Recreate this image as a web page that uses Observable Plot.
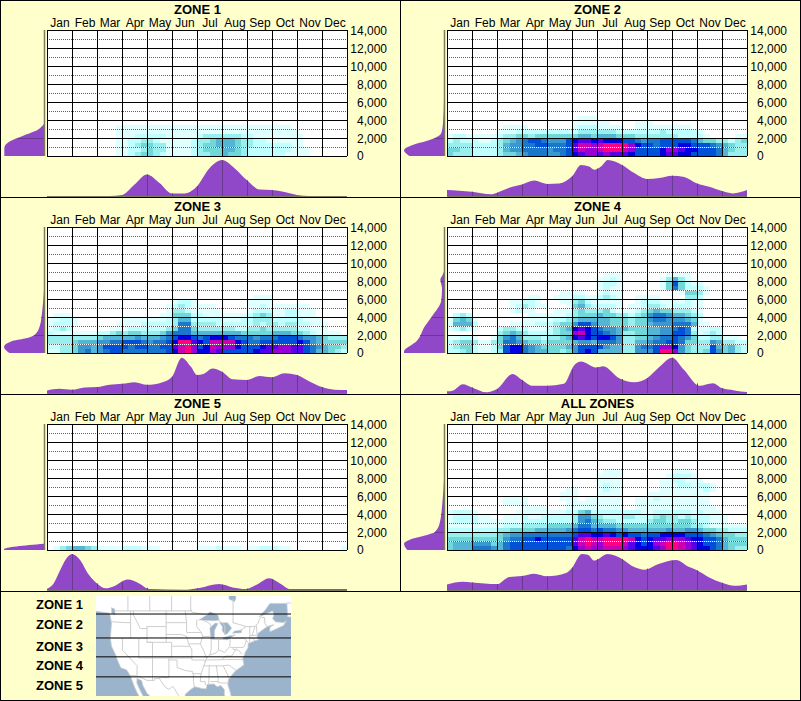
<!DOCTYPE html>
<html>
<head>
<meta charset="utf-8">
<script src="https://cdn.jsdelivr.net/npm/d3@7"></script>
<script src="https://cdn.jsdelivr.net/npm/@observablehq/plot@0.6"></script>
<style>
html,body{margin:0;padding:0;background:#ffffcc;}
#page{position:relative;width:801px;height:701px;background:#ffffcc;overflow:hidden;font-family:"Liberation Sans",Arial,sans-serif;}
#page svg{position:absolute;background:transparent;}
.line{position:absolute;background:#000;}
.zl{position:absolute;left:36px;font-weight:bold;font-size:13px;line-height:14px;color:#000;}
</style>
</head>
<body>
<div id="page"></div>
<script>
const months = ["Jan","Feb","Mar","Apr","May","Jun","Jul","Aug","Sep","Oct","Nov","Dec"];
const monthCenters = [0.5,1.5,2.5,3.5,4.5,5.5,6.5,7.5,8.5,9.5,10.5,11.5];
const monthEdges = [0,1,2,3,4,5,6,7,8,9,10,11,12];
const feetMajor = [0,2000,4000,6000,8000,10000,12000,14000];
const feetMinor = [1000,3000,5000,7000,9000,11000,13000];
const levelColors = ["#e0ffff","#bfffff","#99eeee","#70d8d8","#55b5d5","#3a98d0","#1a78cc","#0050d8","#0000e0","#5500e8","#9900d8","#cc00b0","#ff0080"];
const levels = [1,2,3,4,5,6,7,8,9,10,11,12,13];

// heat levels: one string per 500 ft band (bottom first), one hex digit per quarter month
const zone1Rows = [
"0000 0000 0001 1234 4321 1112 3344 5443 2222 2211 1100 0000",
"0000 0000 0001 1223 4331 1112 3444 5543 2222 2221 1100 0000",
"0000 0000 0001 1234 4331 1112 3445 5543 3222 2221 1000 0000",
"0000 0000 0001 1223 3211 1112 3345 5543 3221 1111 1000 0000",
"0000 0000 0001 1122 2221 1111 2333 3332 2111 1111 1000 0000",
"0000 0000 0001 1111 1111 1111 1111 1111 1111 1111 0000 0000",
"0000 0000 0001 1111 1111 1111 1111 1111 1111 1110 0000 0000"];
const zone2Rows = [
"4333 2222 3445 6777 6678 9abb abaa a988 889a a998 8887 5333",
"4433 2222 3566 7777 6778 acbb cddd cb88 889b ba99 8887 5433",
"3333 2222 3566 7788 7778 accb cddd db98 8788 8998 8876 5433",
"2322 2112 3456 7887 6668 9aa9 a999 8876 7788 8887 5443 3234",
"1221 1111 2334 4344 4444 4554 5554 4433 3333 3222 2100 0011",
"0000 0000 1112 2222 2222 2333 3332 2222 2232 2222 1000 0000",
"0000 0000 0111 1000 0000 1222 1111 0011 1111 1110 0000 0000",
"0000 0000 0000 0000 0000 1111 1100 0011 1000 0000 0000 0000",
"0000 0000 0000 0000 0000 0111 0000 0000 0000 0000 0000 0000"];
const zone3Rows = [
"1133 4675 6788 7777 7778 9cdb 99ba 8888 89aa bbba a875 5432",
"2233 4665 6888 8788 7788 acdb 89cb bb98 889a abba a876 5443",
"3333 4555 6677 8887 6778 9dda 98cc cc98 7788 8888 9865 4444",
"3333 3333 4555 5565 5567 8998 7899 9877 7677 7888 7665 4333",
"2111 1111 2234 3443 3346 7775 5555 5554 4444 5554 4321 1110",
"1232 0000 0011 1222 2223 4774 3333 3322 3343 3333 2211 1000",
"1222 1000 0001 1112 2222 3773 3332 2222 2323 3233 2211 1000",
"1122 1000 0000 1111 1112 3552 2222 1112 2333 2222 2111 0000",
"0111 0000 0000 0000 0011 4442 2111 1111 2343 1122 1110 0000",
"0000 0000 0000 0000 0001 3321 1111 0000 1222 1122 1110 0000",
"0000 0000 0000 0000 0001 2321 1110 0000 1121 1111 1100 0000",
"0000 0000 0000 0000 0000 1221 0000 0000 1111 0000 0000 0000",
"0000 0000 0000 0000 0000 0000 0000 0000 0111 0000 0000 0000"];
const zone4Rows = [
"2234 2112 3899 7655 4434 6898 5555 3366 68dd b643 3486 4532",
"2344 2112 4899 7654 4445 6888 8655 3367 78bb 9643 3385 4532",
"2344 3113 4776 5443 4444 5665 7776 3355 6778 8744 3365 3322",
"1122 1001 4675 3332 3345 9a98 9986 3344 5677 8764 2233 1110",
"0000 0000 3454 3222 2344 bc98 8765 3344 5566 8873 1232 0000",
"1232 1000 2332 2111 2345 9a98 7665 5444 5566 7872 1122 0000",
"1555 2000 0011 1122 2344 6886 5544 4344 5666 7775 1100 0000",
"1454 1000 0000 1111 1223 4555 5544 4344 6776 6654 1000 0000",
"0232 0000 0000 0111 1112 3444 5443 3234 6776 5543 2000 0000",
"0000 0000 0012 1100 0111 3433 3421 1123 4544 3332 1000 0000",
"0000 0000 0012 3211 0001 4532 2221 0112 3321 2221 1000 0000",
"0000 0000 0011 2210 0011 3421 1111 0012 2211 1121 1000 0000",
"0000 0000 0000 0110 0111 2211 2321 0011 1100 0033 2000 0000",
"0000 0000 0000 0000 0011 1100 1211 0000 0000 0144 3100 0000",
"0000 0000 0000 0000 0000 0000 1211 0000 0014 7422 2100 0000",
"0000 0000 0000 0000 0000 0000 1221 0000 0014 8421 1000 0000",
"0000 0000 0000 0000 0000 0000 1121 0000 0013 5310 0000 0000",
"0000 0000 0000 0000 0000 0000 0111 0000 0001 1110 0000 0000"];
const zone5Rows = [
"0134 5543 1111 2221 1100 0000 1112 1110 1122 2110 0000 0001"];
const allRows = [
"4555 7776 5788 8888 8887 9bcb bccc ba99 9abd dcba 9987 5433",
"4555 6664 5788 8888 8888 acdc bddd ca98 9bcd dcba 9887 5444",
"4444 4444 4677 8898 8888 acdc cddd dc98 9aab bba9 9887 5444",
"3333 3333 4566 7777 7777 8aa9 9a98 9887 8899 9988 8765 4433",
"2222 2222 3344 4455 5556 7887 8776 6555 5556 5566 5443 3222",
"1111 1111 1222 3333 4444 5775 5554 4444 4444 4443 3211 1111",
"1222 2111 1111 2222 2222 3675 4332 2222 3443 3443 2211 1000",
"1222 2110 0111 2112 2222 3664 3222 3322 2343 3232 2211 1000",
"1222 1000 0001 1111 1112 2452 2222 2221 1222 2221 2111 0000",
"0000 0000 0000 1111 0001 1111 1111 0011 1111 1111 1110 0000",
"0000 0000 0111 1000 0001 1111 1111 0011 1111 1111 1100 0000",
"0000 0000 0111 1000 0011 1011 1111 0011 1211 1111 1100 0000",
"0000 0000 0000 0000 0011 1000 1111 0000 1111 1111 1100 0000",
"0000 0000 0000 0000 0001 1000 1211 0000 0011 1111 1210 0000",
"0000 0000 0000 0000 0000 0000 1211 0000 0011 1221 2210 0000",
"0000 0000 0000 0000 0000 0000 1111 0000 0011 2211 1000 0000",
"0000 0000 0000 0000 0000 0000 1111 0000 0001 2221 0000 0000",
"0000 0000 0000 0000 0000 0000 0111 0000 0000 1110 0000 0000"];

// monthly profile (below each grid): month position and relative height
const zone1ByMonthX = [0,2.5,3,3.5,4,4.5,5,5.5,6,6.5,7,7.5,8,8.5,9,9.5,10,10.5,12];
const zone1ByMonthY = [0,0,3,35,66,40,8,8,30,85,110,85,48,20,18,12,3,0,0];
const zone2ByMonthX = [0,.49,1,1.76,2,2.49,3,3.49,4,4.49,5,5.36,5.69,5.89,6.16,6.43,7,7.49,8,8.49,9,9.49,10,10.49,11,11.43,12];
const zone2ByMonthY = [18,16,13,5,10,25,35,47,37,38,60,95,90,80,90,110,95,70,52,55,62,58,38,28,15,8,18];
const zone3ByMonthX = [0,.49,1,1.5,2,2.5,3,3.5,4,4.62,5,5.39,5.76,6,6.25,6.62,7,7.43,8,8.5,9,9.5,10,10.5,11,11.5,12];
const zone3ByMonthY = [8,13,10,17,18,25,28,33,25,33,50,108,80,55,58,75,65,42,40,52,48,60,55,35,18,10,9];
const zone4ByMonthX = [0,.25,.63,1,1.59,2,2.63,3,3.43,4,4.67,5.09,5.36,5.96,6.25,6.89,7.49,8,8.5,9,9.49,10.09,10.63,11,11.5,12];
const zone4ByMonthY = [5,8,27,17,2,12,58,40,22,22,28,85,96,78,82,45,33,45,80,108,70,22,30,15,8,3];
const zone5ByMonthX = [0,.25,.49,.76,1,1.29,1.69,2,2.36,2.63,3.23,3.69,4.09,5.56,6.09,6.89,7.43,7.96,8.36,8.89,9.36,9.69,12];
const zone5ByMonthY = [4,18,55,95,110,95,45,20,5,10,32,20,3,1,6,18,8,3,15,36,18,3,3];
const allByMonthX = [0,.63,1,2,2.49,3,3.49,4,4.76,5,5.39,5.63,5.89,6.43,7,7.49,7.89,8.49,9.16,9.69,10,10.49,11,11.5,12];
const allByMonthY = [17,25,23,18,40,43,50,42,52,68,110,108,90,110,95,70,62,80,92,70,60,38,22,13,17];

// elevation profile (left of each grid): feet and relative width
const zone1ByFeetF = [0,889,1630,2260,2740,3590];
const zone1ByFeetW = [120,120,103,63,28,0];
const zone2ByFeetF = [0,630,1260,1665,2000,2550,3660,6250];
const zone2ByFeetW = [105,121,93,53,28,8,3,0];
const zone3ByFeetF = [0,666,1300,1600,2035,2960,4800,7000];
const zone3ByFeetW = [105,121,98,58,28,13,5,0];
const zone4ByFeetF = [0,150,1300,2960,4000,5900,7200,8140,8600,9060];
const zone4ByFeetW = [121,121,83,58,38,8,6,11,5,0];
const zone5ByFeetF = [0,100,700];
const zone5ByFeetW = [121,121,0];
const allByFeetF = [0,700,1150,1600,2000,3000,5200,7800];
const allByFeetW = [111,121,103,58,28,13,5,0];

const zoneNames = ["ZONE 1","ZONE 2","ZONE 3","ZONE 4","ZONE 5","ALL ZONES"];
const zoneRows = [zone1Rows,zone2Rows,zone3Rows,zone4Rows,zone5Rows,allRows];
const zoneMonthX = [zone1ByMonthX,zone2ByMonthX,zone3ByMonthX,zone4ByMonthX,zone5ByMonthX,allByMonthX];
const zoneMonthY = [zone1ByMonthY,zone2ByMonthY,zone3ByMonthY,zone4ByMonthY,zone5ByMonthY,allByMonthY];
const zoneFeetF = [zone1ByFeetF,zone2ByFeetF,zone3ByFeetF,zone4ByFeetF,zone5ByFeetF,allByFeetF];
const zoneFeetW = [zone1ByFeetW,zone2ByFeetW,zone3ByFeetW,zone4ByFeetW,zone5ByFeetW,allByFeetW];

// simplified map outlines, lon/lat
const landRing = [[-140,62],[-45,62],[-50,52],[-56,51.5],[-59,50.9],[-66,50.9],[-68,49],[-70,47.5],[-65,49],[-64.5,48],[-65,47],[-64,46.2],[-61,46],[-60,46.5],[-61,45.3],[-64,44.3],[-66,43.7],[-66,44.8],[-64.5,45.5],[-67,45],[-69,44],[-70.5,43.2],[-70.8,42],[-70,41.7],[-71.5,41.4],[-74,40.7],[-74,39.7],[-75,38.5],[-75.5,37.5],[-76,36.9],[-75.5,35.3],[-77,34.5],[-78.5,33.8],[-80,32.6],[-81.2,31.5],[-81.4,30.2],[-80.5,28.2],[-80,26.5],[-80.4,25.2],[-81,25.2],[-81.8,26.1],[-82.7,27.7],[-82.7,29],[-84,30],[-85.3,29.7],[-86.5,30.4],[-89,30.3],[-89.3,29.2],[-90.5,29.2],[-93.5,29.7],[-95,29],[-97,27.8],[-97.3,26],[-97.7,22],[-105.5,22],[-106,23.8],[-108,25.5],[-109.5,27],[-111,28],[-112.5,30],[-113,31.3],[-114.7,31.8],[-114.7,30.5],[-113,28],[-111,25.5],[-110,23],[-110.5,23],[-112,25],[-114.5,28],[-115.8,30],[-117.1,32.5],[-118.5,34],[-120.6,34.5],[-121.9,36.6],[-122.5,37.8],[-124,40],[-124.4,42],[-124,46],[-124.7,48.4],[-129.5,48.9],[-140,50],[-140,62]];
const newfoundlandRing = [[-59.8,51],[-52,51],[-52,47],[-59.5,47.5],[-59.8,51]];
const lakeRings = [
[[-92,46.7],[-89,48],[-88,48.8],[-85,47.9],[-84.6,46.6],[-87,46.5],[-90,46.6],[-92,46.7]],
[[-87.6,41.7],[-87.8,43],[-88,44.7],[-86,45.9],[-85,45.8],[-86.3,44],[-86.3,42],[-87.6,41.7]],
[[-84.5,46],[-81.5,46],[-80,44.6],[-81.7,43.1],[-82.5,43],[-83.5,44],[-83.4,45],[-84.5,46]],
[[-83.4,41.7],[-83,42.2],[-80.5,42.7],[-79,42.8],[-81.5,41.6],[-83.4,41.7]],
[[-79.7,43.3],[-79,43.9],[-76.3,44.1],[-76.5,43.4],[-79.7,43.3]],
[[-81,54],[-78.5,54],[-78.5,52],[-79,51.3],[-81,52],[-81,54]],
[[-124,49.8],[-122.8,49.5],[-122.7,48],[-124,48.4],[-124,49.8]]];
const borderLines = [
[[-122.7,49],[-95.2,49],[-95,49.4],[-94.6,48.7],[-92,48.3],[-89.6,48]],
[[-84.5,46.5],[-82.5,45.3],[-82.5,43]],[[-79,43],[-79,42.8]],
[[-76.5,44.2],[-74.7,45],[-71.5,45],[-70.3,45.9],[-70,46.7],[-69.2,47.4],[-68,47.3],[-67.8,45.7],[-67,45]],
[[-118,49],[-118,60]],[[-110,49],[-110,60]],[[-102,49],[-102,60]],[[-95,49],[-95,60]],[[-79.5,46],[-79.5,52]],[[-79.5,46],[-74.7,45]],
[[-124,46.2],[-123,46.2],[-119,46],[-117,46]],[[-117,49],[-117,42]],[[-124.2,42],[-111,42]],
[[-116,49],[-116,48],[-114.5,46],[-113.5,44.5],[-111,44.5]],[[-111,45],[-104,45]],
[[-111,45],[-111,41],[-104,41]],[[-104,49],[-104,41]],[[-104,46],[-96.5,46]],
[[-104,43],[-98.5,43],[-96.5,42.5]],[[-102,40],[-95.3,40]],[[-104,41],[-102,41],[-102,37]],
[[-109,41],[-109,31.3]],[[-109,37],[-94.6,37]],[[-114,42],[-114,37],[-109,37]],[[-111,41],[-109,41]],
[[-120,42],[-120,39],[-114.6,35],[-114.7,32.7]],
[[-117.1,32.5],[-114.7,32.5],[-111,31.3],[-108.2,31.3],[-108.2,31.8],[-106.5,31.8],[-104.5,29.7],[-103,29],[-101.5,29.8],[-99.5,27.5],[-97.3,26]],
[[-106.5,32],[-103,32],[-103,37]],[[-103,36.5],[-100,36.5],[-100,34.6],[-97,33.8],[-94.5,33.6]],
[[-94.6,39.1],[-94.6,36.5],[-90.2,36.5],[-89.7,36]],[[-94.5,33],[-91.2,33]],[[-94.5,33.6],[-94,33],[-94,31],[-93.7,29.7]],
[[-97,49],[-96.5,46],[-96.5,43.5],[-91.2,43.5]],[[-95.8,40.6],[-91.5,40.6]],[[-96.5,42.5],[-95.8,40.6],[-95.3,40],[-94.6,39.1]],
[[-92.8,46.7],[-92.8,45],[-91.2,43.5],[-90.6,42.5],[-91.5,40.6],[-90.2,38.8],[-89.2,37],[-89.7,36],[-90.2,35],[-91.2,33],[-91.5,31],[-89.7,31],[-89.6,30.2]],
[[-90.6,42.5],[-87.8,42.5]],[[-90.4,46.6],[-88,45.8],[-87.6,45.1]],[[-87.5,41.7],[-87.5,39.3],[-88,37.8]],
[[-89.2,37],[-88,37.8],[-85.7,38.3],[-84.8,39.1],[-82.6,38.4],[-80.7,40],[-80.5,42]],
[[-84.8,41.7],[-84.8,39.1]],[[-87,41.75],[-83.4,41.7]],[[-89.5,36.5],[-81.7,36.6],[-75.9,36.6]],
[[-90.2,35],[-84.3,35],[-83.1,35],[-81,35.2],[-78.5,33.9]],[[-88.2,35],[-88.4,30.3]],[[-85.6,35],[-85,32],[-85,31]],
[[-87.6,31],[-85,31],[-84.9,30.7],[-82.2,30.6],[-81.5,30.7]],[[-83.1,35],[-81,32]],[[-82,37.5],[-83.7,36.6]],
[[-82,37.5],[-80,37.5],[-78.3,39.4]],[[-80.5,39.7],[-75.7,39.7],[-75,40.5],[-74.7,41.4],[-75.3,42],[-79.8,42]],
[[-74.7,41.4],[-74,41]],[[-79.5,39.7],[-79.5,39.2],[-77.5,39],[-76.3,38]],[[-73.4,45],[-73.3,42.7],[-73.5,41.1]],
[[-71.5,45],[-72.5,42.7]],[[-73.3,42.7],[-70.8,42.8]],[[-73.5,42],[-71.5,42]],[[-71,45.3],[-70.7,43.1]],[[-71.8,42],[-71.8,41.4]]];
const zoneLineLats = [48.2,42.1,37.3,32.2];
const zoneLabelNames = ["ZONE 1","ZONE 2","ZONE 3","ZONE 4","ZONE 5"];

const page = document.getElementById("page");
const font = {fontFamily:'"Liberation Sans",Arial,sans-serif',fontSize:"12px",background:"transparent"};
function place(svg,left,top){svg.style.left=left+"px";svg.style.top=top+"px";page.appendChild(svg);}
function lerp(xs,ys,x){
  for(let i=1;i<xs.length;i++){ if(x<=xs[i]){const t=(x-xs[i-1])/(xs[i]-xs[i-1]);return ys[i-1]+t*(ys[i]-ys[i-1]);} }
  return 0;
}
const purple="#9048c8", purpleDark="#683a8c", olive="#7a7a60";

zoneNames.forEach((name,i)=>{
  const px=(i%2)*400, py=Math.floor(i/2)*197;
  const cells=[];
  zoneRows[i].forEach((row,r)=>{
    row.replace(/ /g,"").split("").forEach((ch,c)=>{
      const level=parseInt(ch,16);
      if(level>0) cells.push({month:c/4,monthEnd:(c+1)/4,feet:r*500,feetEnd:(r+1)*500,level});
    });
  });
  const main=Plot.plot({
    width:400,height:197,marginLeft:47,marginRight:53,marginTop:30,marginBottom:41,
    style:font,
    x:{domain:[0,12],axis:null},
    y:{domain:[0,14000],axis:null},
    color:{type:"ordinal",domain:levels,range:levelColors},
    marks:[
      Plot.rect([0],{x1:()=>0,x2:()=>12,y1:()=>0,y2:()=>14000,fill:"#ffffff"}),
      Plot.rect(cells,{x1:"month",x2:"monthEnd",y1:"feet",y2:"feetEnd",fill:"level",shapeRendering:"crispEdges"}),
      Plot.ruleY(feetMinor,{stroke:"#ffffff",strokeWidth:1}),
      Plot.ruleY(feetMinor,{stroke:"#606060",strokeWidth:1,strokeDasharray:"1,1"}),
      Plot.ruleY(feetMajor,{stroke:"#000",strokeWidth:1}),
      Plot.ruleX(monthEdges,{stroke:"#000",strokeWidth:1}),
      Plot.axisX({anchor:"top",ticks:monthCenters,tickFormat:d=>months[Math.floor(d)],tickSize:0,tickPadding:4,fontSize:12,label:null,fill:"#000"}),
      Plot.text(feetMajor.filter(d=>d>0),{x:()=>12,y:d=>d,text:d=>d3.format(",")(d),textAnchor:"end",dx:39.5,dy:1,fontSize:12,fill:"#000"}),
      Plot.text([0],{x:()=>12,y:d=>d,text:()=>"0",textAnchor:"start",dx:9.5,dy:-0.5,fontSize:12,fill:"#000"}),
      Plot.text([name],{x:()=>6,y:()=>14000,text:d=>d,dy:-21,fontSize:13,fontWeight:"bold",fill:"#000"})
    ]
  });
  place(main,px,py);

  const bx=zoneMonthX[i], by=zoneMonthY[i];
  const byMonth=bx.map((m,k)=>({m,h:by[k]}));
  const bottom=Plot.plot({
    width:400,height:40,marginLeft:47,marginRight:53,marginTop:3,marginBottom:1,
    style:font,
    x:{domain:[0,12],axis:null},
    y:{domain:[0,110],axis:null},
    marks:[
      Plot.areaY(byMonth,{x:"m",y1:()=>0,y2:"h",fill:purple,curve:"monotone-x"}),
      Plot.ruleX(monthEdges.slice(1,12).filter(m=>lerp(bx,by,m)>4),{x:d=>d,y1:()=>0,y2:d=>lerp(bx,by,d),stroke:purpleDark,strokeWidth:1}),
      Plot.ruleY([0],{stroke:olive,strokeWidth:1})
    ]
  });
  place(bottom,px,py+157);

  const ff=zoneFeetF[i], fw=zoneFeetW[i];
  const byFeet=ff.map((f,k)=>({f,w:fw[k]}));
  const left=Plot.plot({
    width:47,height:157,marginLeft:4,marginRight:3,marginTop:30,marginBottom:1,
    style:font,
    x:{domain:[121,0],axis:null},
    y:{domain:[0,14000],axis:null},
    marks:[
      Plot.areaX(byFeet,{y:"f",x1:()=>0,x2:"w",fill:purple,curve:"monotone-y"}),
      Plot.ruleY(feetMajor.filter(f=>lerp(ff,fw,f)>4&&f>0),{y:d=>d,x1:()=>0,x2:d=>lerp(ff,fw,d),stroke:purpleDark,strokeWidth:1}),
      Plot.ruleX([0],{y1:()=>0,y2:()=>14000,stroke:olive,strokeWidth:1.5})
    ]
  });
  place(left,px,py);
});

// frame
[[0,0,801,1],[0,700,801,1],[0,0,1,701],[800,0,1,701],[0,197,801,1],[0,394,801,1],[0,591,801,1],[400,0,1,591]].forEach(([l,t,w,h])=>{
  const d=document.createElement("div");d.className="line";
  d.style.cssText=`left:${l}px;top:${t}px;width:${w}px;height:${h}px`;
  page.appendChild(d);
});

// map: lon/lat through linear scales
const ringRows=(rings,tag)=>rings.flatMap((ring,k)=>ring.map(([lon,lat])=>({lon,lat,id:tag+k})));
const map=Plot.plot({
  width:195,height:100,margin:0,
  style:{...font,background:"#9bb3cb"},
  x:{domain:[-129.5,-58.1],axis:null},
  y:{domain:[27.2,52.66],axis:null},
  marks:[
    Plot.line(ringRows([landRing,newfoundlandRing],"land"),{x:"lon",y:"lat",z:"id",fill:"#ffffff",stroke:"#cfcfcf",strokeWidth:0.8}),
    Plot.line(ringRows(lakeRings,"lake"),{x:"lon",y:"lat",z:"id",fill:"#9bb3cb",stroke:"#cfcfcf",strokeWidth:0.5}),
    Plot.line(ringRows(borderLines,"b"),{x:"lon",y:"lat",z:"id",stroke:"#cfcfcf",strokeWidth:1}),
    Plot.ruleY(zoneLineLats,{stroke:"#000",strokeWidth:1})
  ]
});
place(map,96,596);
map.style.background="#9bb3cb";
[605,625,647,666,686].forEach((cy,k)=>{
  const d=document.createElement("div");d.className="zl";d.textContent=zoneLabelNames[k];
  d.style.top=(cy-7)+"px";
  page.appendChild(d);
});
</script>
</body>
</html>
